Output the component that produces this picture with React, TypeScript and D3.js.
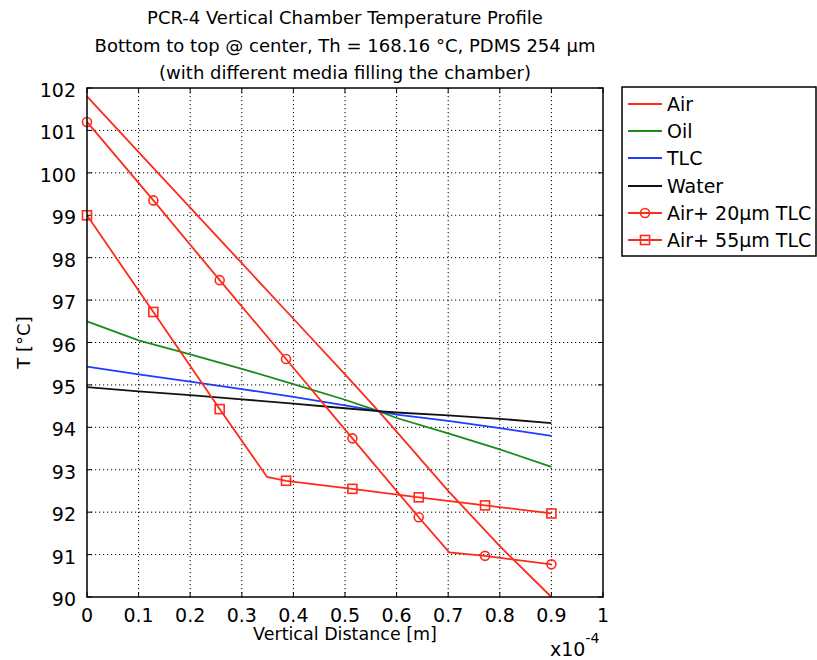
import React from 'react';
import * as d3 from 'd3';

const xTicks = [0, 0.1, 0.2, 0.3, 0.4, 0.5, 0.6, 0.7, 0.8, 0.9, 1];
const xTickLabels = ['0', '0.1', '0.2', '0.3', '0.4', '0.5', '0.6', '0.7', '0.8', '0.9', '1'];
const yTicks = [90, 91, 92, 93, 94, 95, 96, 97, 98, 99, 100, 101, 102];

const titleLines = [
  'PCR-4 Vertical Chamber Temperature Profile',
  'Bottom to top @ center, Th = 168.16 °C, PDMS 254 μm',
  '(with different media filling the chamber)',
];

const airX = [0, 0.1, 0.2, 0.3, 0.4, 0.5, 0.565, 0.6, 0.7, 0.8, 0.9];
const airT = [101.8, 100.49, 99.18, 97.87, 96.56, 95.25, 94.38, 93.9, 92.5, 91.2, 90.0];

const oilX = [0, 0.1, 0.2, 0.3, 0.4, 0.5, 0.565, 0.6, 0.7, 0.8, 0.9];
const oilT = [96.5, 96.05, 95.72, 95.38, 95.02, 94.65, 94.38, 94.22, 93.86, 93.48, 93.07];

const tlcX = [0, 0.1, 0.2, 0.3, 0.4, 0.5, 0.565, 0.6, 0.7, 0.8, 0.9];
const tlcT = [95.43, 95.25, 95.08, 94.9, 94.72, 94.52, 94.38, 94.3, 94.15, 93.98, 93.8];

const waterX = [0, 0.1, 0.2, 0.3, 0.4, 0.5, 0.565, 0.6, 0.7, 0.8, 0.9];
const waterT = [94.95, 94.85, 94.76, 94.66, 94.56, 94.45, 94.38, 94.35, 94.28, 94.2, 94.1];

const air20X = [0, 0.1286, 0.2571, 0.3857, 0.5143, 0.6429, 0.702, 0.7714, 0.9];
const air20T = [101.2, 99.35, 97.47, 95.61, 93.74, 91.88, 91.05, 90.97, 90.77];
const air20MarkerX = [0, 0.1286, 0.2571, 0.3857, 0.5143, 0.6429, 0.7714, 0.9];
const air20MarkerT = [101.2, 99.35, 97.47, 95.61, 93.74, 91.88, 90.97, 90.77];

const air55X = [0, 0.1286, 0.2571, 0.349, 0.3857, 0.5143, 0.6429, 0.7714, 0.9];
const air55T = [99.0, 96.72, 94.43, 92.83, 92.74, 92.55, 92.35, 92.16, 91.97];
const air55MarkerX = [0, 0.1286, 0.2571, 0.3857, 0.5143, 0.6429, 0.7714, 0.9];
const air55MarkerT = [99.0, 96.72, 94.43, 92.74, 92.55, 92.35, 92.16, 91.97];

const legendNames = ['Air', 'Oil', 'TLC', 'Water', 'Air+ 20μm TLC', 'Air+ 55μm TLC'];

const RED = '#ff2a1a';
const GREEN = '#1a8a1a';
const BLUE = '#1f3cff';
const BLACK = '#111111';

const FONT = '"DejaVu Sans", Verdana, sans-serif';

export default function App() {
  const L = 87, R = 603, T = 88, B = 597;
  const x = d3.scaleLinear().domain([0, 1]).range([L, R]);
  const y = d3.scaleLinear().domain([90, 102]).range([B, T]);
  const line = d3.line<[number, number]>().x(d => x(d[0])).y(d => y(d[1]));
  const zip = (xs: number[], ys: number[]) => xs.map((v, i) => [v, ys[i]] as [number, number]);

  const series = [
    { name: legendNames[0], color: RED, pts: zip(airX, airT), marker: null as null | string, mpts: [] as [number, number][] },
    { name: legendNames[1], color: GREEN, pts: zip(oilX, oilT), marker: null, mpts: [] },
    { name: legendNames[2], color: BLUE, pts: zip(tlcX, tlcT), marker: null, mpts: [] },
    { name: legendNames[3], color: BLACK, pts: zip(waterX, waterT), marker: null, mpts: [] },
    { name: legendNames[4], color: RED, pts: zip(air20X, air20T), marker: 'circle', mpts: zip(air20MarkerX, air20MarkerT) },
    { name: legendNames[5], color: RED, pts: zip(air55X, air55T), marker: 'square', mpts: zip(air55MarkerX, air55MarkerT) },
  ];

  const drawMarker = (kind: string | null, cx: number, cy: number, color: string, key: string) => {
    if (kind === 'circle') return <circle key={key} cx={cx} cy={cy} r={4.5} fill="none" stroke={color} strokeWidth={1.6} />;
    if (kind === 'square') return <rect key={key} x={cx - 4.5} y={cy - 4.5} width={9} height={9} fill="none" stroke={color} strokeWidth={1.6} />;
    return null;
  };

  const legendY = [104, 131, 158, 186, 213, 240];

  return (
    <svg width={817} height={660} style={{ position: 'absolute', left: 0, top: 0, background: '#fff' }} fontFamily={FONT}>
      <rect x={0} y={0} width={817} height={660} fill="#fff" />
      {titleLines.map((t, i) => (
        <text key={i} x={(L + R) / 2} y={24 + i * 27.5} textAnchor="middle" fontSize={18} fill="#000">{t}</text>
      ))}
      {/* grid */}
      {xTicks.slice(1, -1).map(v => (
        <line key={'gx' + v} x1={x(v)} x2={x(v)} y1={T} y2={B} stroke="#000" strokeWidth={1} strokeDasharray="1.2,2.8" />
      ))}
      {yTicks.slice(1, -1).map(v => (
        <line key={'gy' + v} x1={L} x2={R} y1={y(v)} y2={y(v)} stroke="#000" strokeWidth={1} strokeDasharray="1.2,2.8" />
      ))}
      {/* ticks inward */}
      {xTicks.map(v => (
        <g key={'tx' + v}>
          <line x1={x(v)} x2={x(v)} y1={B} y2={B - 5} stroke="#000" strokeWidth={1} />
          <line x1={x(v)} x2={x(v)} y1={T} y2={T + 5} stroke="#000" strokeWidth={1} />
        </g>
      ))}
      {yTicks.map(v => (
        <g key={'ty' + v}>
          <line x1={L} x2={L + 5} y1={y(v)} y2={y(v)} stroke="#000" strokeWidth={1} />
          <line x1={R} x2={R - 5} y1={y(v)} y2={y(v)} stroke="#000" strokeWidth={1} />
        </g>
      ))}
      {/* series */}
      {series.map((s, i) => (
        <g key={'s' + i}>
          <path d={line(s.pts) || ''} fill="none" stroke={s.color} strokeWidth={1.8} />
          {s.mpts.map((p, j) => drawMarker(s.marker, x(p[0]), y(p[1]), s.color, 'm' + i + '_' + j))}
        </g>
      ))}
      {/* frame */}
      <rect x={L} y={T} width={R - L} height={B - T} fill="none" stroke="#000" strokeWidth={1.5} />
      {/* tick labels */}
      {xTicks.map((v, i) => (
        <text key={'xl' + v} x={x(v)} y={622} textAnchor="middle" fontSize={19} fill="#000">{xTickLabels[i]}</text>
      ))}
      {yTicks.map(v => (
        <text key={'yl' + v} x={76} y={y(v) + 9} textAnchor="end" fontSize={19} fill="#000">{v}</text>
      ))}
      <text x={(L + R) / 2} y={640} textAnchor="middle" fontSize={17.5} fill="#000">Vertical Distance [m]</text>
      <text x={550} y={656} fontSize={19} fill="#000">x10<tspan dy={-13} fontSize={14}>-4</tspan></text>
      <text transform={`translate(30,${(T + B) / 2}) rotate(-90)`} textAnchor="middle" fontSize={18} fill="#000">T [°C]</text>
      {/* legend */}
      <rect x={622} y={87} width={194} height={169} fill="#fff" stroke="#000" strokeWidth={1.5} />
      {series.map((s, i) => (
        <g key={'lg' + i}>
          <line x1={628} x2={662} y1={legendY[i]} y2={legendY[i]} stroke={s.color} strokeWidth={1.8} />
          {drawMarker(s.marker, 645, legendY[i], s.color, 'lm' + i)}
          <text x={667} y={legendY[i] + 7} fontSize={19} fill="#000">{s.name}</text>
        </g>
      ))}
    </svg>
  );
}
